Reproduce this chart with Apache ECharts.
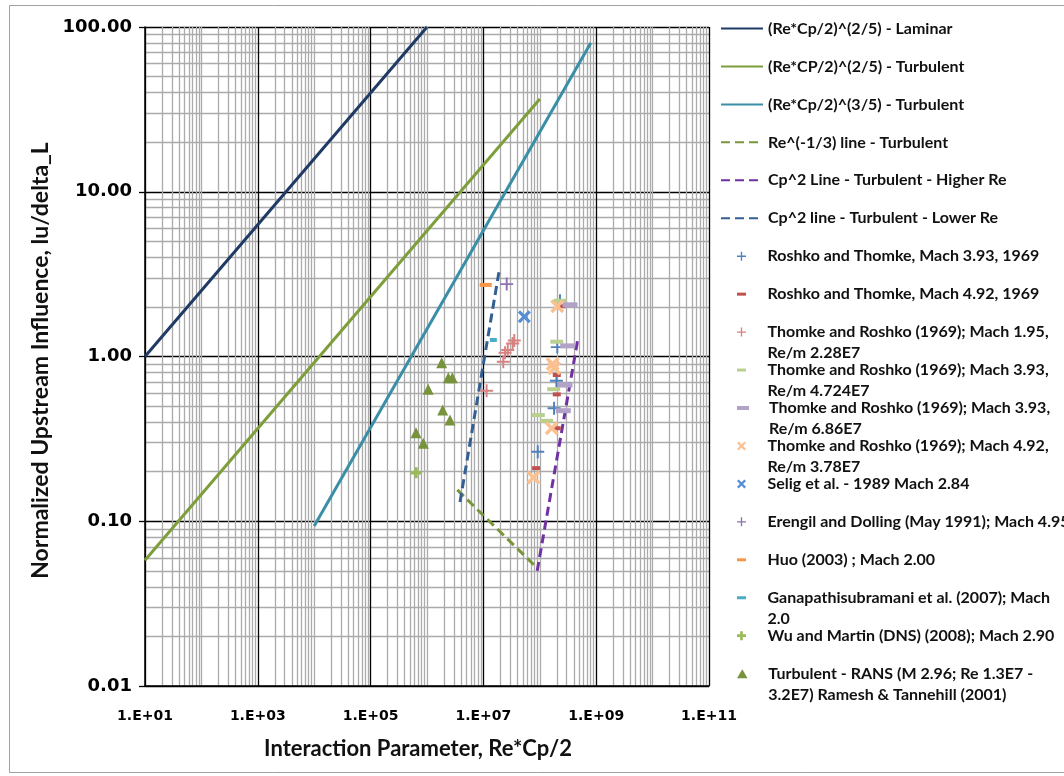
<!DOCTYPE html>
<html>
<head>
<meta charset="utf-8">
<script src="https://cdn.jsdelivr.net/npm/echarts@6/dist/echarts.min.js"></script>
<style>
  html, body { margin: 0; padding: 0; background: #ffffff; }
  #chart { width: 1064px; height: 776px; }
</style>
</head>
<body>
<div id="chart"></div>
<script>
// ---- Correlation curves: [Re*Cp/2, lu/delta_L] end points ----
const laminar25   = [[10, 1.0], [1.0e6, 100]];
const turbulent25 = [[10, 0.058], [1.0e8, 36.6]];
const turbulent35 = [[1.0e4, 0.0935], [8.0e8, 80]];
const reThirdLine = [[3.45e6, 0.155], [9.0e7, 0.052]];
const cp2HigherRe = [[9.0e7, 0.050], [4.7e8, 1.26]];
const cp2LowerRe  = [[3.85e6, 0.131], [1.89e7, 3.27]];

// ---- Measured / computed data points ----
const roshko393  = [[2.28e8, 2.18], [2.04e8, 1.14], [1.97e8, 0.713], [1.79e8, 0.485], [9.2e7, 0.264]];
const roshko492  = [[2.4e8, 2.02], [2.0e8, 0.772], [2.0e8, 0.589], [2.0e8, 0.367], [8.6e7, 0.210]];
const thomke195  = [[3.53e7, 1.25], [3.3e7, 1.20], [2.7e7, 1.095], [2.42e7, 1.054], [2.25e7, 0.93], [1.14e7, 0.62]];
const thomke393a = [[2.3e8, 2.18], [2.0e8, 1.23], [1.76e8, 0.633], [9.4e7, 0.441], [1.32e8, 0.407]];
const thomke393b = [[3.43e8, 2.06], [3.12e8, 1.16], [2.8e8, 0.671], [2.61e8, 0.469]];
const thomke492  = [[2.04e8, 2.02], [1.69e8, 0.90], [1.8e8, 0.85], [1.63e8, 0.367], [7.7e7, 0.184]];
const selig      = [[5.31e7, 1.745]];
const erengil    = [[2.59e7, 2.75]];
const huo        = [[1.10e7, 2.72]];
const ganapathi  = [[1.50e7, 1.26]];
const wuMartin   = [[6.4e5, 0.197]];
const ransPoints = [[1.82e6, 0.917], [2.39e6, 0.744], [2.81e6, 0.744], [1.05e6, 0.632],
                    [1.90e6, 0.473], [2.56e6, 0.412], [6.38e5, 0.345], [8.6e5, 0.297]];

// ---- Axis ranges ----
const xRange = [1e1, 1e11];
const yRange = [0.01, 100];

// ---- Marker shapes ----
const PLUS_THIN  = 'path://M8.5,0H11.5V8.5H20V11.5H11.5V20H8.5V11.5H0V8.5H8.5Z';
const PLUS_THICK = 'path://M7,0H13V7H20V13H13V20H7V13H0V7H7Z';
const CROSS      = 'path://M0,3.5L3.5,0L10,6.5L16.5,0L20,3.5L13.5,10L20,16.5L16.5,20L10,13.5L3.5,20L0,16.5L6.5,10Z';
const DASH       = 'path://M0,0H30V10H0Z';
const TRIANGLE   = 'path://M10,0L20,17H0Z';

const LABEL_FONT = 'Lato';
const series = [];
const legendRows = [];

function addLine(name, data, color, dashed) {
  series.push({
    name, type: 'line', data, showSymbol: false, symbol: 'none', z: 3,
    lineStyle: { color, width: 3, type: dashed ? [9, 5] : 'solid', cap: 'butt' },
    itemStyle: { color }
  });
  legendRows.push({ name, kind: 'line', lines: 1, icon: null, h: 14 });
}

function addScatter(name, data, color, symbol, size, legendIcon, legendH, lines) {
  series.push({
    name, type: 'scatter', data, symbol, symbolSize: size, z: 4,
    itemStyle: { color, opacity: 1 }
  });
  legendRows.push({ name, kind: 'marker', lines: lines || 1, icon: legendIcon, h: legendH });
}

addLine('(Re*Cp/2)^(2/5) - Laminar', laminar25, '#1f3a64', false);
addLine('(Re*CP/2)^(2/5) - Turbulent', turbulent25, '#7e9e3c', false);
addLine('(Re*Cp/2)^(3/5) - Turbulent', turbulent35, '#3a8ea6', false);
addLine('Re^(-1/3) line - Turbulent', reThirdLine, '#7a963a', true);
addLine('Cp^2 Line - Turbulent - Higher Re', cp2HigherRe, '#7131a3', true);
addLine('Cp^2 line - Turbulent - Lower Re', cp2LowerRe, '#345f93', true);

addScatter('Roshko and Thomke, Mach 3.93, 1969', roshko393, '#4f81bd', PLUS_THIN, 13, PLUS_THIN, 9);
addScatter('Roshko and Thomke, Mach 4.92, 1969', roshko492, '#c0504d', 'rect', [8, 4], DASH, 3);
addScatter('Thomke and Roshko (1969); Mach 1.95, Re/m 2.28E7', thomke195, '#d98080', PLUS_THIN, 13, PLUS_THIN, 9, 2);
addScatter('Thomke and Roshko (1969); Mach 3.93, Re/m 4.724E7', thomke393a, '#b9d08e', 'rect', [13, 4], DASH, 3, 2);
addScatter('Thomke and Roshko (1969); Mach 3.93, Re/m 6.86E7', thomke393b, '#b3a2c7', 'rect', [15, 5], DASH, 4, 2);
addScatter('Thomke and Roshko (1969); Mach 4.92, Re/m 3.78E7', thomke492, '#fac090', CROSS, 14, CROSS, 9, 2);
addScatter('Selig et al. - 1989 Mach 2.84', selig, '#558ed5', CROSS, 13, CROSS, 9);
addScatter('Erengil and Dolling (May 1991); Mach 4.95', erengil, '#8e72b0', PLUS_THIN, 13, PLUS_THIN, 9);
addScatter('Huo (2003) ; Mach 2.00', huo, '#f79646', 'rect', [12, 4], DASH, 3);
addScatter('Ganapathisubramani et al. (2007); Mach 2.0', ganapathi, '#4bacc6', 'rect', [7, 4], DASH, 3, 2);
addScatter('Wu and Martin (DNS) (2008); Mach 2.90', wuMartin, '#9bbb59', PLUS_THICK, 11, PLUS_THICK, 9);
addScatter('Turbulent - RANS (M 2.96; Re 1.3E7 - 3.2E7) Ramesh & Tannehill (2001)', ransPoints, '#77933c', 'triangle', 11, TRIANGLE, 9, 2);

// wrapped legend labels
const wrapped = {
  'Thomke and Roshko (1969); Mach 1.95, Re/m 2.28E7': 'Thomke and Roshko (1969); Mach 1.95,\nRe/m 2.28E7',
  'Thomke and Roshko (1969); Mach 3.93, Re/m 4.724E7': 'Thomke and Roshko (1969); Mach 3.93,\nRe/m 4.724E7',
  'Thomke and Roshko (1969); Mach 3.93, Re/m 6.86E7': 'Thomke and Roshko (1969); Mach 3.93,\nRe/m 6.86E7',
  'Thomke and Roshko (1969); Mach 4.92, Re/m 3.78E7': 'Thomke and Roshko (1969); Mach 4.92,\nRe/m 3.78E7',
  'Ganapathisubramani et al. (2007); Mach 2.0': 'Ganapathisubramani et al. (2007); Mach\n2.0',
  'Turbulent - RANS (M 2.96; Re 1.3E7 - 3.2E7) Ramesh & Tannehill (2001)': 'Turbulent - RANS (M 2.96; Re 1.3E7 -\n3.2E7) Ramesh & Tannehill (2001)'
};

// one legend block per entry, stacked down the right side;
// wrapped entries get a blank leading line so their first line sits beside the icon
const LEGEND_TOP = 28.5, LEGEND_STEP = 37.95, LINE_H = 21;
const legends = legendRows.map((row, i) => {
  const yc = LEGEND_TOP + i * LEGEND_STEP;
  const item = { name: row.name };
  if (row.icon) item.icon = row.icon;
  if (row.kind === 'line') {
    item.itemStyle = { color: 'rgba(0,0,0,0)', borderColor: 'rgba(0,0,0,0)', borderWidth: 0 };
  }
  const twoLine = row.lines === 2;
  return {
    data: [item],
    left: row.kind === 'line' ? 720 : 737,
    top: twoLine ? yc - 1.5 * LINE_H : yc - LINE_H / 2,
    orient: 'vertical',
    padding: 0,
    itemGap: 0,
    itemWidth: 42,
    itemHeight: row.h,
    symbolKeepAspect: true,
    selectedMode: false,
    formatter: name => (wrapped[name] ? '\n' + wrapped[name] : name),
    textStyle: { fontFamily: LABEL_FONT, fontWeight: 'bold', fontSize: 16, color: '#111', lineHeight: LINE_H }
  };
});

const chart = echarts.init(document.getElementById('chart'), null, { renderer: 'canvas' });
chart.setOption({
  backgroundColor: '#ffffff',
  animation: false,
  grid: { left: 145, right: 355, top: 27, bottom: 90, containLabel: false },
  xAxis: {
    type: 'log', logBase: 10, min: xRange[0], max: xRange[1], interval: 1,
    name: 'Interaction Parameter, Re*Cp/2', nameLocation: 'middle', nameGap: 52,
    nameTextStyle: { fontFamily: LABEL_FONT, fontWeight: 'bold', fontSize: 22, color: '#111', padding: [0, 18, 0, 0] },
    axisLine: { show: true, lineStyle: { color: '#000', width: 1.5 } },
    axisTick: { show: false },
    axisLabel: {
      margin: 23, fontFamily: 'DejaVu Sans', fontWeight: 'bold', fontSize: 14, color: '#000',
      formatter: v => {
        const e = Math.round(Math.log10(v));
        return e % 2 === 1 ? '1.E+' + String(e).padStart(2, '0') : '';
      }
    },
    splitLine: { show: true, lineStyle: { color: ['#000000', '#ababab'], width: 1.3 } },
    minorTick: { show: false, splitNumber: 9 },
    minorSplitLine: { show: true, lineStyle: { color: '#ababab', width: 1.3 } }
  },
  yAxis: {
    type: 'log', logBase: 10, min: yRange[0], max: yRange[1], splitNumber: 4,
    name: 'Normalized Upstream Influence, lu/delta_L', nameLocation: 'middle', nameGap: 90,
    nameTextStyle: { fontFamily: LABEL_FONT, fontWeight: 'bold', fontSize: 23, color: '#111', padding: [0, 8, 0, 0] },
    axisLine: { show: true, lineStyle: { color: '#000', width: 1.5 } },
    axisTick: { show: true, length: 6, lineStyle: { color: '#000', width: 1.3 } },
    axisLabel: {
      margin: 13, fontFamily: 'DejaVu Sans', fontWeight: 'bold', fontSize: 18, color: '#000',
      formatter: v => v.toFixed(2)
    },
    splitLine: { show: true, lineStyle: { color: '#000000', width: 1.3 } },
    minorTick: { show: false, splitNumber: 9 },
    minorSplitLine: { show: true, lineStyle: { color: '#ababab', width: 1.3 } }
  },
  legend: legends,
  graphic: [{
    type: 'rect', left: 7, top: 3, silent: true, z: -1,
    shape: { width: 1080, height: 767 },
    style: { fill: 'none', stroke: '#a0a0a0', lineWidth: 1 }
  }],
  series
});
</script>
</body>
</html>
